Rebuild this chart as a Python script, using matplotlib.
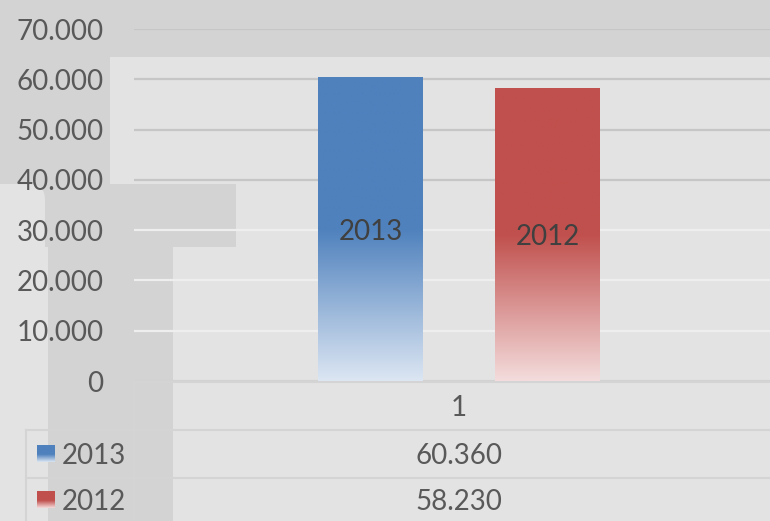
import numpy as np
import matplotlib
matplotlib.use("Agg")
import matplotlib.pyplot as plt
from matplotlib.patches import Rectangle, FancyBboxPatch
from matplotlib.colors import to_rgb
from matplotlib.ticker import FuncFormatter
from matplotlib.transforms import blended_transform_factory

# ---- data ----
series = ["2013", "2012"]
values = [60360, 58230]
category = "1"
y_ticks = [0, 10000, 20000, 30000, 40000, 50000, 60000, 70000]
colors_top = ["#4f81bd", "#c0504d"]
colors_bottom = ["#dce6f3", "#f4dcdc"]

plt.rcParams["font.family"] = ["Lato", "DejaVu Sans"]

W, H = 770, 521
BASE = "#e3e3e3"
DARK = "#d3d3d3"
TXT = "#595959"

fig = plt.figure(figsize=(W / 100, H / 100), dpi=100, facecolor=BASE)

# background / overlay axes in pixel coords
bg = fig.add_axes([0, 0, 1, 1], zorder=0)
bg.set_xlim(0, W)
bg.set_ylim(H, 0)
bg.axis("off")

# watermark shapes
bg.add_patch(Rectangle((0, 0), W, 57, color=DARK, lw=0))
bg.add_patch(Rectangle((0, 0), 110, 184, color=DARK, lw=0))
bg.add_patch(Rectangle((0, 184), 236, 63, color=DARK, lw=0))
bg.add_patch(Rectangle((48, 184), 125, H - 184, color=DARK, lw=0))
bg.add_patch(FancyBboxPatch((-60, 184), 105, 400,
                            boxstyle="round,pad=0,rounding_size=16",
                            color=BASE, lw=0))


def grad_array(top, bottom, n=256, split=0.5):
    t = np.linspace(0, 1, n)
    f = np.clip((t - split) / (1 - split), 0, 1)
    c0 = np.array(to_rgb(top))
    c1 = np.array(to_rgb(bottom))
    arr = c0[None, :] * (1 - f[:, None]) + c1[None, :] * f[:, None]
    return arr[:, None, :]


def px(x0, y0, x1, y1):
    return [x0 / W, 1 - y1 / H, (x1 - x0) / W, (y1 - y0) / H]


ax = fig.add_axes(px(134, 29, 770, 381), zorder=1)
ax.patch.set_alpha(0)
for s in ax.spines.values():
    s.set_visible(False)

xpos = np.arange(len(series))
bar_w = 0.593
bars = ax.bar(xpos, values, width=bar_w, color="none", lw=0, zorder=3)
for b, ct, cb in zip(bars, colors_top, colors_bottom):
    x0, w, h = b.get_x(), b.get_width(), b.get_height()
    im = ax.imshow(grad_array(ct, cb), extent=[x0, x0 + w, 0, h],
                   origin="upper", aspect="auto", zorder=3,
                   interpolation="bilinear")
    im.set_clip_path(b)

for x, v, name in zip(xpos, values, series):
    ax.text(x, v / 2, name, ha="center", va="center_baseline", fontsize=20,
            color="#404040", zorder=4)

ax.set_xlim(-1.336, 2.257)
ax.set_ylim(0, 70000)
ax.set_yticks(y_ticks)
ax.yaxis.set_major_formatter(
    FuncFormatter(lambda v, p: f"{int(v):,}".replace(",", ".")))
ax.tick_params(axis="y", length=0, pad=22, labelsize=20, labelcolor=TXT)
ax.set_xticks([])
ax.set_axisbelow(True)
ax.yaxis.grid(True, lw=1.6)
for gl, t in zip(ax.get_ygridlines(), y_ticks):
    if t == 0:
        gl.set_color("#d2d2d2")
    elif t >= 40000:
        gl.set_color("#c6c6c6")
    else:
        gl.set_color("#eeeeee")

# ---- data table ----
LC = "#d4d4d4"
bg.plot([134, W], [382, 382], color=LC, lw=1.5, zorder=1)
bg.plot([26, W], [430, 430], color=LC, lw=1.5, zorder=1)
bg.plot([26, W], [478, 478], color=LC, lw=1.5, zorder=1)
bg.plot([134, 134], [382, H], color=LC, lw=1.5, zorder=1)
bg.plot([26, 26], [430, H], color=LC, lw=1.5, zorder=1)

trans = blended_transform_factory(ax.transData, bg.transData)
cx = xpos.mean()
bg.text(cx, 406, category, transform=trans, ha="center", va="center_baseline",
        fontsize=20, color=TXT)

row_y = [454, 500]
for ry, name, v, ct, cb in zip(row_y, series, values, colors_top, colors_bottom):
    bg.imshow(grad_array(ct, cb, split=0.55), extent=[37, 55, ry + 8, ry - 9],
              aspect="auto", zorder=2, interpolation="bilinear")
    bg.text(62, ry, name, ha="left", va="center_baseline", fontsize=20, color=TXT)
    bg.text(cx, ry, f"{v:,}".replace(",", "."), transform=trans,
            ha="center", va="center_baseline", fontsize=20, color=TXT)

bg.set_xlim(0, W)
bg.set_ylim(H, 0)

fig.savefig("out.png", dpi=100, facecolor=BASE)
